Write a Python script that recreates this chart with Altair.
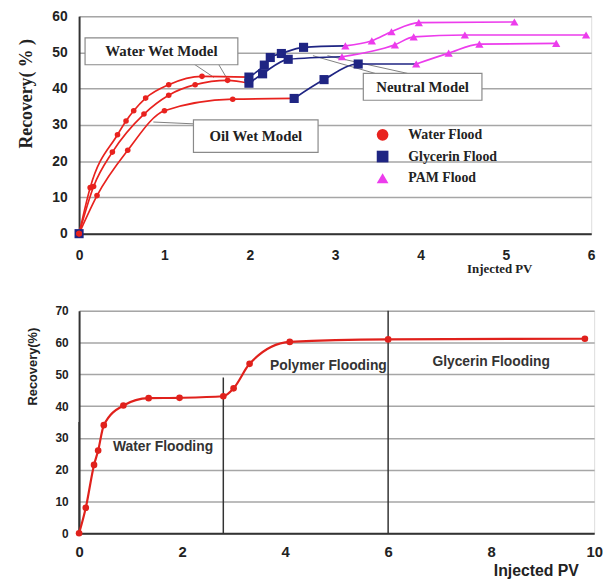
import altair as alt
import pandas as pd

# ---------------- top chart data ----------------
stages = ["Water Flood", "Glycerin Flood", "PAM  Flood"]
stage_colors = ["#e8221e", "#1f2583", "#ec3cec"]
stage_shapes = ["circle", "square", "triangle-up"]
stage_sizes = [32, 85, 70]

ww_water_x = [0, 0.13, 0.45, 0.55, 0.64, 0.78, 1.05, 1.44]
ww_water_y = [0, 12.7, 27.3, 31.1, 33.9, 37.4, 41.1, 43.4]
ww_gly_x = [1.99, 2.17, 2.24, 2.37, 2.63]
ww_gly_y = [43.2, 46.5, 48.6, 49.7, 51.4]
ww_pam_x = [3.12, 3.43, 3.66, 3.98, 5.10]
ww_pam_y = [51.8, 53.2, 55.7, 58.2, 58.4]

nt_water_x = [0, 0.17, 0.39, 0.76, 1.05, 1.36, 1.74]
nt_water_y = [0, 13.0, 22.5, 33.0, 38.2, 41.1, 42.3]
nt_gly_x = [1.99, 2.15, 2.45]
nt_gly_y = [41.5, 44.1, 48.1]
nt_pam_x = [3.08, 3.70, 3.92, 4.52, 5.94]
nt_pam_y = [48.8, 52.1, 54.3, 54.8, 54.8]

ow_water_x = [0, 0.21, 0.57, 1.0, 1.80]
ow_water_y = [0, 10.5, 23.0, 33.9, 37.1]
ow_gly_x = [2.52, 2.87, 3.27]
ow_gly_y = [37.3, 42.5, 46.8]
ow_pam_x = [3.95, 4.33, 4.69, 5.59]
ow_pam_y = [46.8, 49.8, 52.3, 52.5]

origin_x = [0]
origin_y = [0]

# annotation boxes (data coordinates)
box_labels = ["Water Wet Model", "Oil Wet Model", "Neutral Model"]
box_x1 = [0.07, 1.34, 3.33]
box_x2 = [1.86, 2.80, 4.72]
box_y1 = [54.0, 31.4, 44.2]
box_y2 = [46.6, 22.4, 36.8]
conn_x1 = [1.34, 1.63, 0.87, 2.74, 2.91]
conn_y1 = [46.9, 46.9, 30.8, 49.1, 49.1]
conn_x2 = [1.58, 1.74, 1.34, 3.47, 3.85]
conn_y2 = [43.1, 42.5, 30.3, 44.2, 44.2]

# ---------------- bottom chart data ----------------
bot_x = [0, 0.13, 0.29, 0.37, 0.48, 0.86, 1.35, 1.95, 2.8, 3.0, 3.31, 4.09, 6.0, 9.82]
bot_y = [0, 8, 21.5, 26, 34, 40.2, 42.5, 42.6, 43.1, 45.6, 53.3, 60.2, 61, 61.2]
rule_x = [0, 2.8, 6.0]
rule_top = [35, 49, 70]
phase_labels = ["Water Flooding", "Polymer Flooding", "Glycerin Flooding"]
phase_x = [1.63, 4.84, 8.0]
phase_y = [27, 52.5, 54]

# ---------------- build tables ----------------
models = {
    "Water Wet": [(ww_water_x, ww_water_y), (ww_gly_x, ww_gly_y), (ww_pam_x, ww_pam_y)],
    "Neutral": [(nt_water_x, nt_water_y), (nt_gly_x, nt_gly_y), (nt_pam_x, nt_pam_y)],
    "Oil Wet": [(ow_water_x, ow_water_y), (ow_gly_x, ow_gly_y), (ow_pam_x, ow_pam_y)],
}
pt_rows = [dict(stage=stages[1], x=x, y=y) for x, y in zip(origin_x, origin_y)]
ln_rows = []
for m, segs in models.items():
    for i, (xs, ys) in enumerate(segs):
        for x, y in zip(xs, ys):
            pt_rows.append(dict(stage=stages[i], x=x, y=y))
        lx, ly = list(xs), list(ys)
        if i + 1 < len(segs):
            lx.append(segs[i + 1][0][0])
            ly.append(segs[i + 1][1][0])
        for k, (x, y) in enumerate(zip(lx, ly)):
            ln_rows.append(dict(seg=f"{m}-{i}", stage=stages[i], x=x, y=y, k=k))
pts = pd.DataFrame(pt_rows)
lns = pd.DataFrame(ln_rows)
boxes = pd.DataFrame(dict(label=box_labels, x=box_x1, x2=box_x2, y=box_y1, y2=box_y2,
                          xc=[(a + b) / 2 for a, b in zip(box_x1, box_x2)],
                          yc=[(a + b) / 2 for a, b in zip(box_y1, box_y2)]))
conns = pd.DataFrame(dict(x=conn_x1, y=conn_y1, x2=conn_x2, y2=conn_y2))

SERIF = "Liberation Serif"
SANS = "Liberation Sans"

xs_top = alt.Scale(domain=[0, 6], nice=False, zero=False)
ys_top = alt.Scale(domain=[0, 60], nice=False)

x_top_axis = alt.Axis(values=[0, 1, 2, 3, 4, 5, 6], format="d", title="Injected PV", titleFont=SERIF,
                      titleFontSize=13, titleFontWeight="bold", titleColor="#222",
                      titleX=425, titleY=35, titleAlign="center", titleBaseline="middle",
                      labelFont=SANS, labelFontWeight="bold", labelFontSize=14, labelColor="#222",
                      labelPadding=15, labelFlush=False, ticks=False, grid=False,
                      domainColor="#333", domainWidth=2)
y_top_axis = alt.Axis(values=[0, 10, 20, 30, 40, 50, 60], format="d", title="Recovery( % )", titleFont=SERIF,
                      titleFontSize=18, titleFontWeight="bold", titleColor="#222",
                      titleX=-53, titleY=78, titleAngle=270, titleAlign="center", titleBaseline="middle",
                      labelFont=SANS, labelFontWeight="bold", labelFontSize=14, labelColor="#222",
                      labelPadding=12, labelFlush=False, labelOverlap=False, ticks=False,
                      grid=True, gridColor="#a6a6a6", gridWidth=1.5,
                      domainColor="#333", domainWidth=2)


def tx(field="x"):
    return alt.X(f"{field}:Q", scale=xs_top, axis=x_top_axis)


def ty(field="y"):
    return alt.Y(f"{field}:Q", scale=ys_top, axis=y_top_axis)


conn_layer = alt.Chart(conns).mark_rule(color="#808080", strokeWidth=1).encode(
    x=tx(), y=ty(), x2="x2:Q", y2="y2:Q")
box_layer = alt.Chart(boxes).mark_rect(fill="white", stroke="#8a8a8a", strokeWidth=1.2).encode(
    x=tx(), x2="x2:Q", y=ty(), y2="y2:Q")
box_text = alt.Chart(boxes).mark_text(font=SERIF, fontSize=15, fontWeight="bold", color="#222").encode(
    x=tx("xc"), y=ty("yc"), text="label:N")

line_layers = []
for i, s in enumerate(stages):
    line_layers.append(
        alt.Chart(lns[lns["stage"] == s]).mark_line(
            interpolate="monotone", strokeWidth=1.7, color=stage_colors[i]).encode(
            x=tx(), y=ty(), detail="seg:N", order="k:Q"))

legend = alt.Legend(title=None, orient="none", legendX=300, legendY=113, padding=0,
                    labelFont=SERIF, labelFontSize=14, labelFontWeight="bold", labelColor="#222",
                    labelOffset=19, rowPadding=8, symbolSize=140, symbolStrokeWidth=0)
point_layers = []
for i in [1, 2, 0]:
    s = stages[i]
    point_layers.append(
        alt.Chart(pts[pts["stage"] == s]).mark_point(filled=True, opacity=1, size=stage_sizes[i]).encode(
            x=tx(), y=ty(),
            color=alt.Color("stage:N", scale=alt.Scale(domain=stages, range=stage_colors), legend=legend),
            shape=alt.Shape("stage:N", scale=alt.Scale(domain=stages, range=stage_shapes), legend=legend)))

top = alt.layer(conn_layer, box_layer, box_text, *line_layers, *point_layers).properties(width=518, height=220)

# ---------------- bottom chart ----------------
bot = pd.DataFrame(dict(x=bot_x, y=bot_y))
rules = pd.DataFrame(dict(x=rule_x, y=[0] * len(rule_x), y2=rule_top))
phases = pd.DataFrame(dict(label=phase_labels, x=phase_x, y=phase_y))

xs_bot = alt.Scale(domain=[0, 10], nice=False)
ys_bot = alt.Scale(domain=[0, 70], nice=False)
x_bot_axis = alt.Axis(values=[0, 2, 4, 6, 8, 10], format="d", title="Injected PV", titleFont=SANS,
                      titleFontSize=16, titleFontWeight="bold", titleColor="#222",
                      titleX=462, titleY=38, titleAlign="center", titleBaseline="middle",
                      labelFont=SANS, labelFontWeight="bold", labelFontSize=15, labelColor="#222",
                      labelPadding=12, labelFlush=False, ticks=False, grid=False,
                      domainColor="#333", domainWidth=2)
y_bot_axis = alt.Axis(values=[0, 10, 20, 30, 40, 50, 60, 70], format="d", title="Recovery(%)", titleFont=SANS,
                      titleFontSize=13, titleFontWeight="bold", titleColor="#222",
                      titleX=-47, titleY=56, titleAngle=270, titleAlign="center", titleBaseline="middle",
                      labelFont=SANS, labelFontWeight="bold", labelFontSize=12, labelColor="#222",
                      labelPadding=11, labelFlush=False, labelOverlap=False, ticks=False,
                      grid=True, gridColor="#a6a6a6", gridWidth=1.5,
                      domainColor="#333", domainWidth=2)


def bx(field="x"):
    return alt.X(f"{field}:Q", scale=xs_bot, axis=x_bot_axis)


def by(field="y"):
    return alt.Y(f"{field}:Q", scale=ys_bot, axis=y_bot_axis)


rule_layer = alt.Chart(rules).mark_rule(color="#333", strokeWidth=1.5).encode(
    x=bx(), y=by(), y2="y2:Q")
bot_line = alt.Chart(bot).mark_line(interpolate="monotone", color="#e0211c", strokeWidth=2.2).encode(
    x=bx(), y=by())
bot_pts = alt.Chart(bot).mark_circle(color="#e0211c", size=45, opacity=1).encode(x=bx(), y=by())
bot_text = alt.Chart(phases).mark_text(font=SANS, fontSize=14, fontWeight="bold", color="#333").encode(
    x=bx(), y=by(), text="label:N")

bottom = alt.layer(rule_layer, bot_line, bot_pts, bot_text).properties(width=521, height=225)

chart = alt.vconcat(top, bottom, spacing=78, bounds="flush").properties(
    padding={"left": 17, "top": 5, "right": 5, "bottom": 0}
).configure_view(stroke="#3a3a3a", strokeWidth=2).configure(background="white")

chart.save("out.html", embed_options={"renderer": "svg", "actions": False})
